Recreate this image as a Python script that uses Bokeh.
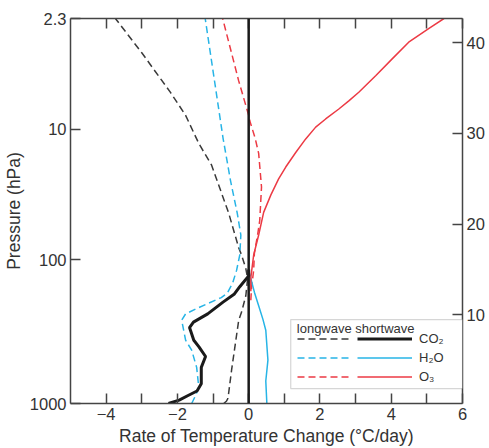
from bokeh.plotting import figure
from bokeh.models import (LinearAxis, FixedTicker, Range1d, Span, Legend, LegendItem,
                          BoxAnnotation, Label)
from bokeh.embed import file_html
from bokeh.resources import INLINE

# ---- data: rate of temperature change (°C/day) versus altitude (km) ----
co2_lw_alt = [0.22, 0.5, 0.8, 3.9, 9.4, 10.3, 12.1, 14.0, 15.1, 16.6, 17.4, 21.2, 26.5, 28.9, 32.0, 34.5, 38.9, 42.68]
co2_lw_rate = [-0.70, -0.62, -0.58, -0.48, -0.28, -0.20, -0.08, -0.03, -0.08, -0.20, -0.28, -0.56, -1.04, -1.40, -1.77, -2.19, -3.00, -3.74]

h2o_lw_alt = [0.22, 1.1, 2.0, 4.2, 6.1, 7.2, 9.4, 10.1, 10.8, 11.9, 12.4, 13.5, 14.9, 16.6, 18.8, 21.2, 24.8, 29.5, 42.68]
h2o_lw_rate = [-1.60, -1.49, -1.40, -1.46, -1.60, -1.77, -1.88, -1.77, -1.40, -0.77, -0.60, -0.45, -0.34, -0.25, -0.22, -0.32, -0.51, -0.72, -1.22]

o3_lw_alt = [11.6, 13.0, 14.9, 16.8, 18.8, 20.4, 24.1, 27.8, 29.5, 31.4, 32.0, 35.8, 42.68]
o3_lw_rate = [0.06, 0.08, 0.14, 0.16, 0.25, 0.31, 0.36, 0.28, 0.18, 0.03, 0.0, -0.28, -0.73]

co2_sw_alt = [0.22, 0.6, 1.1, 1.6, 2.4, 4.2, 5.4, 6.5, 7.2, 8.6, 9.2, 10.1, 11.4, 12.3, 13.1, 14.3, 15.0]
co2_sw_rate = [-2.25, -1.95, -1.70, -1.45, -1.33, -1.33, -1.21, -1.40, -1.54, -1.66, -1.55, -1.15, -0.72, -0.40, -0.25, 0.0, 0.0]

h2o_sw_alt = [0.22, 2.7, 5.0, 8.3, 9.5, 11.0, 12.5, 14.0, 14.6]
h2o_sw_rate = [0.51, 0.48, 0.54, 0.48, 0.40, 0.28, 0.16, 0.06, 0.02]

o3_sw_alt = [12.6, 14.1, 16.6, 18.8, 21.3, 23.2, 25.0, 26.3, 27.9, 29.4, 30.7, 31.6, 32.7, 33.6, 34.55, 36.4, 38.2, 40.07, 41.6, 42.68]
o3_sw_rate = [0.06, 0.06, 0.14, 0.28, 0.42, 0.62, 0.84, 1.04, 1.32, 1.60, 1.88, 2.16, 2.53, 2.81, 3.09, 3.57, 4.02, 4.49, 5.06, 5.48]

# ---- axes ----
x_label_ticks = [-4, -2, 0, 2, 4, 6]
x_label_text = ["\u22124", "\u22122", "0", "2", "4", "6"]
x_minor_ticks = [-3, -1, 1, 3, 5]
pressure_labels = ["1000", "100", "10", "2.3"]
pressure_alt = [0.22, 16.1, 30.44, 42.68]
alt_ticks = [10, 20, 30, 40]

FONT = "Liberation Sans"
TXT = "#333333"
AX = "#444444"
BLACK = "#1a1a1a"
DGREY = "#3a3a3a"
BLUE = "#27b4e6"
RED = "#ec3a44"

p = figure(width=481, height=440, frame_width=392, frame_height=385,
           x_range=Range1d(-5, 6), y_range=Range1d(0.22, 42.68),
           output_backend="svg", toolbar_location=None,
           min_border_left=69, min_border_right=0, min_border_top=18, min_border_bottom=0)
p.grid.visible = False
p.outline_line_color = None
p.background_fill_color = "white"

bottom_ax = p.xaxis[0]
left_ax = p.yaxis[0]
top_ax = LinearAxis()
right_ax = LinearAxis()

bottom_ax.ticker = FixedTicker(ticks=x_label_ticks, minor_ticks=x_minor_ticks)
bottom_ax.major_label_overrides = {t: l for t, l in zip(x_label_ticks, x_label_text)}
top_ax.ticker = FixedTicker(ticks=[], minor_ticks=x_label_ticks + x_minor_ticks)
left_ax.ticker = FixedTicker(ticks=pressure_alt)
left_ax.major_label_overrides = {a: l for a, l in zip(pressure_alt, pressure_labels)}
right_ax.ticker = FixedTicker(ticks=alt_ticks)

for ax in [bottom_ax, top_ax, left_ax, right_ax]:
    ax.axis_line_color = AX
    ax.axis_line_width = 1.5
    ax.major_tick_line_color = AX
    ax.major_tick_line_width = 1.5
    ax.major_tick_in = 10
    ax.major_tick_out = 0
    ax.minor_tick_line_color = AX
    ax.minor_tick_line_width = 1.5
    ax.minor_tick_in = 10
    ax.minor_tick_out = 0
    ax.major_label_text_font = FONT
    ax.major_label_text_font_size = "16.5px"
    ax.major_label_text_color = TXT
    ax.major_label_standoff = 4
    ax.axis_label_text_font = FONT
    ax.axis_label_text_font_size = "17.5px"
    ax.axis_label_text_font_style = "normal"
    ax.axis_label_text_color = TXT
    ax.axis_label_standoff = 3

bottom_ax.axis_label = "Rate of Temperature Change (\u00b0C/day)"
left_ax.axis_label = "Pressure (hPa)"
p.add_layout(top_ax, "above")
p.add_layout(right_ax, "right")

# ---- lines ----
p.add_layout(Span(location=0, dimension="height", line_color=BLACK, line_width=2.5))

r_co2_lw = p.line(co2_lw_rate, co2_lw_alt, line_color=DGREY, line_width=1.5, line_dash="7 4")
r_h2o_lw = p.line(h2o_lw_rate, h2o_lw_alt, line_color=BLUE, line_width=1.5, line_dash="7 4")
r_o3_lw = p.line(o3_lw_rate, o3_lw_alt, line_color=RED, line_width=1.5, line_dash="7 4")
r_h2o_sw = p.line(h2o_sw_rate, h2o_sw_alt, line_color=BLUE, line_width=1.5)
r_o3_sw = p.line(o3_sw_rate, o3_sw_alt, line_color=RED, line_width=1.5)
r_co2_sw = p.line(co2_sw_rate, co2_sw_alt, line_color=BLACK, line_width=3)

# ---- legend ----
p.add_layout(BoxAnnotation(left=1.18, right=6, top=9.48, bottom=1.87,
                           fill_color="white", fill_alpha=1.0,
                           line_color="#777777", line_width=1.2))
p.add_layout(Label(x=1.35, y=8.5, text="longwave shortwave", text_baseline="middle",
                   text_font=FONT, text_font_size="13px", text_color=TXT))

def style_legend(leg, standoff, gw):
    leg.padding = 0
    leg.margin = 0
    leg.spacing = 0
    leg.border_line_color = None
    leg.background_fill_alpha = 0
    leg.glyph_width = gw
    leg.glyph_height = 19
    leg.label_height = 19
    leg.label_standoff = standoff
    leg.label_text_font = FONT
    leg.label_text_font_size = "13px"
    leg.label_text_color = TXT

leg_lw = Legend(items=[LegendItem(label=" ", renderers=[r_co2_lw]),
                       LegendItem(label=" ", renderers=[r_h2o_lw]),
                       LegendItem(label=" ", renderers=[r_o3_lw])],
                location=(227, 17))
style_legend(leg_lw, 0, 52)
leg_sw = Legend(items=[LegendItem(label="CO\u2082", renderers=[r_co2_sw]),
                       LegendItem(label="H\u2082O", renderers=[r_h2o_sw]),
                       LegendItem(label="O\u2083", renderers=[r_o3_sw])],
                location=(287, 17))
style_legend(leg_sw, 7, 55)
p.add_layout(leg_lw)
p.add_layout(leg_sw)

open("out.html", "w").write(file_html(p, INLINE))
